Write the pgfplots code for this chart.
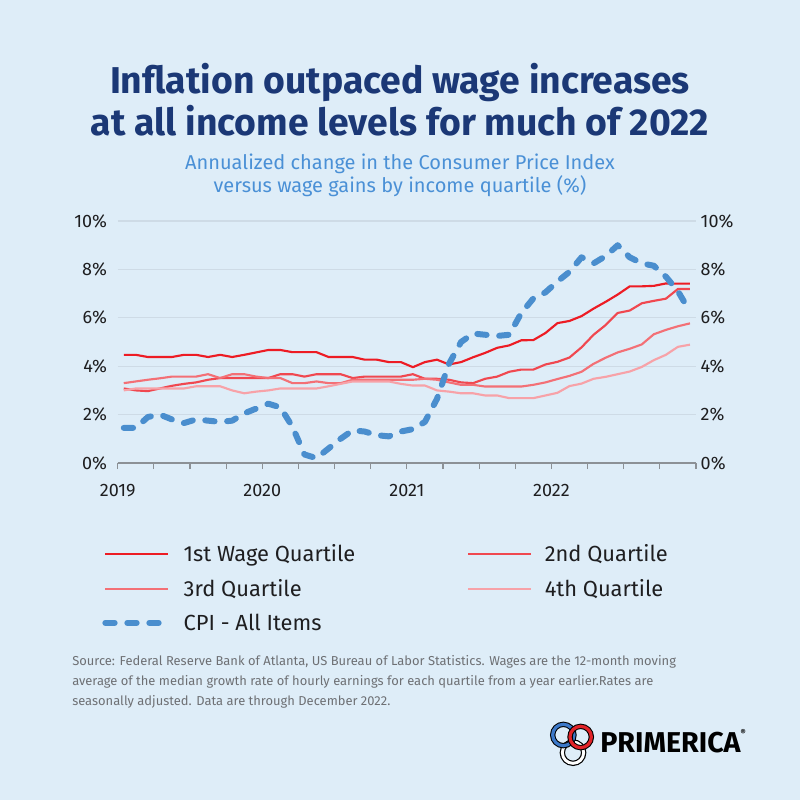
\documentclass[border=0pt]{standalone}
\usepackage{pgfplots}
\pgfplotsset{compat=1.18}
\usepackage{pgfplotstable}
\usepackage{fontspec}
\setmainfont{Fira Sans}
\definecolor{bg}{RGB}{222,237,248}
\definecolor{titlecol}{RGB}{27,56,118}
\definecolor{subcol}{RGB}{74,144,214}
\definecolor{srccol}{RGB}{110,112,116}
\definecolor{gridcol}{RGB}{206,219,230}
\definecolor{axcol}{RGB}{140,145,150}
\definecolor{txtcol}{RGB}{30,30,32}
\definecolor{qa}{RGB}{237,28,36}
\definecolor{qb}{RGB}{240,72,80}
\definecolor{qc}{RGB}{243,112,118}
\definecolor{qd}{RGB}{247,162,168}
\definecolor{cpicol}{RGB}{74,142,206}
\definecolor{logored}{RGB}{225,35,40}
\definecolor{logoblue}{RGB}{60,120,200}

\pgfplotstableread{
m q1 q2 q3 q4 cpi
0.5 4.47 3.08 3.30 3.00 1.45
1.5 4.47 3.00 3.37 3.08 1.45
2.5 4.38 2.97 3.44 3.08 1.90
3.5 4.38 3.08 3.50 3.08 2.00
4.5 4.38 3.19 3.57 3.08 1.80
5.5 4.47 3.27 3.57 3.08 1.65
6.5 4.47 3.33 3.57 3.17 1.80
7.5 4.38 3.44 3.67 3.17 1.75
8.5 4.47 3.51 3.51 3.17 1.70
9.5 4.38 3.51 3.67 3.00 1.75
10.5 4.47 3.51 3.67 2.88 2.05
11.5 4.57 3.51 3.57 2.95 2.25
12.5 4.67 3.51 3.51 3.00 2.45
13.5 4.67 3.67 3.51 3.08 2.30
14.5 4.58 3.67 3.30 3.08 1.50
15.5 4.58 3.57 3.30 3.08 0.35
16.5 4.58 3.67 3.37 3.08 0.20
17.5 4.38 3.67 3.30 3.17 0.60
18.5 4.38 3.67 3.30 3.27 1.00
19.5 4.38 3.51 3.44 3.37 1.35
20.5 4.27 3.57 3.44 3.37 1.30
21.5 4.27 3.57 3.44 3.37 1.15
22.5 4.17 3.57 3.44 3.37 1.10
23.5 4.17 3.57 3.44 3.27 1.30
24.5 3.96 3.67 3.44 3.20 1.40
25.5 4.17 3.48 3.48 3.20 1.70
26.5 4.27 3.48 3.44 3.00 2.65
27.5 4.07 3.44 3.33 2.95 4.10
28.5 4.17 3.33 3.23 2.88 5.00
29.5 4.37 3.30 3.23 2.88 5.35
30.5 4.55 3.48 3.16 2.79 5.30
31.5 4.76 3.57 3.16 2.79 5.25
32.5 4.86 3.77 3.16 2.68 5.30
33.5 5.07 3.86 3.16 2.68 6.20
34.5 5.08 3.86 3.23 2.68 6.80
35.5 5.37 4.07 3.33 2.79 7.05
36.5 5.78 4.18 3.47 2.90 7.50
37.5 5.87 4.36 3.60 3.18 7.90
38.5 6.07 4.78 3.77 3.28 8.50
39.5 6.38 5.30 4.10 3.48 8.25
40.5 6.66 5.70 4.35 3.56 8.55
41.5 6.96 6.20 4.57 3.67 9.00
42.5 7.30 6.30 4.72 3.78 8.50
43.5 7.30 6.60 4.90 3.97 8.25
44.5 7.32 6.70 5.32 4.25 8.15
45.5 7.42 6.79 5.50 4.47 7.70
46.5 7.41 7.19 5.65 4.80 7.10
47.5 7.41 7.19 5.77 4.89 6.25
}\datatable

\begin{document}
\begin{tikzpicture}
\useasboundingbox (0pt,0pt) rectangle (600pt,600pt);
\fill[bg] (0pt,0pt) rectangle (600pt,600pt);

\node[font=\fontsize{28}{31.5}\selectfont\bfseries, text=titlecol, align=center] at (300pt,525pt)
  {Inflation outpaced wage increases\\at all income levels for much of 2022};
\node[font=\fontsize{15}{17.25}\selectfont, text=subcol, align=center] at (300pt,468.5pt)
  {Annualized change in the Consumer Price Index\\versus wage gains by income quartile (\%)};

\begin{axis}[
  at={(88.3pt,252.75pt)}, anchor=south west,
  scale only axis, width=433.7pt, height=181.5pt,
  xmin=0, xmax=48, ymin=0, ymax=10,
  axis x line*=bottom, axis y line*=left,
  x axis line style={draw=axcol, line width=0.8pt, -},
  y axis line style={draw=none},
  xtick={0,3,...,48},
  xticklabels={2019,,,,2020,,,,2021,,,,2022,,,,},
  ytick={0,2,4,6,8,10},
  yticklabels={0\%,2\%,4\%,6\%,8\%,10\%},
  tick align=outside, major tick length=4.5pt,
  xtick style={draw=axcol, line width=0.8pt},
  ytick style={draw=none},
  ymajorgrids, grid style={draw=gridcol, line width=0.9pt},
  tick label style={font=\fontsize{13.5}{16}\selectfont, text=txtcol},
  xticklabel style={yshift=-8pt},
  /pgf/number format/assume math mode=true,
  legend columns=2,
  legend cell align=left,
  legend style={at={(-0.034,-0.315)}, anchor=north west, draw=none, fill=none,
    font=\fontsize{16.4}{19}\selectfont, text=txtcol,
    row sep=7.5pt,
    /tikz/every odd column/.append style={column sep=7.5pt},
    /tikz/column 2/.style={column sep=82pt}},
  legend image code/.code={\draw[#1] (0pt,0pt) -- (47pt,0pt);},
]
\addplot[qa, line width=1.6pt, line join=round] table[x=m,y=q1]{\datatable};
\addlegendentry{1st Wage Quartile}
\addplot[qb, line width=1.6pt, line join=round] table[x=m,y=q2]{\datatable};
\addlegendentry{2nd Quartile}
\addplot[qc, line width=1.6pt, line join=round] table[x=m,y=q3]{\datatable};
\addlegendentry{3rd Quartile}
\addplot[qd, line width=1.6pt, line join=round] table[x=m,y=q4]{\datatable};
\addlegendentry{4th Quartile}
\addplot[cpicol, line width=4.5pt, line cap=round, line join=round, dash pattern=on 7pt off 9.5pt] table[x=m,y=cpi]{\datatable};
\addlegendentry{CPI - All Items}
\end{axis}

\begin{axis}[
  at={(88.3pt,252.75pt)}, anchor=south west,
  scale only axis, width=433.7pt, height=181.5pt,
  xmin=0, xmax=48, ymin=0, ymax=10,
  axis y line*=right, hide x axis,
  y axis line style={draw=none},
  ytick={0,2,4,6,8,10},
  yticklabels={0\%,2\%,4\%,6\%,8\%,10\%},
  ytick style={draw=none},
  tick label style={font=\fontsize{13.5}{16}\selectfont, text=txtcol},
]
\end{axis}

\node[anchor=north west, inner sep=0pt, font=\fontsize{9.7}{15}\selectfont, text=srccol, align=left] at (54pt,109pt)
  {Source: Federal Reserve Bank of Atlanta, US Bureau of Labor Statistics. Wages are the 12-month moving\\
   average of the median growth rate of hourly earnings for each quartile from a year earlier.Rates are\\
   seasonally adjusted. Data are through December 2022.};

% logo
\begin{scope}
\draw[black, line width=4pt] (429.75pt,35.5pt) circle (8pt);
\draw[white, line width=2.2pt] (429.75pt,35.5pt) circle (8pt);
\draw[black, line width=4pt] (422.5pt,48.75pt) circle (8pt);
\draw[logoblue, line width=2.4pt] (422.5pt,48.75pt) circle (8pt);
\draw[black, line width=4pt] (435.5pt,47.25pt) circle (8pt);
\draw[logored, line width=2.4pt] (435.5pt,47.25pt) circle (8pt);
\end{scope}
\node[anchor=west, inner sep=0pt, font=\fontsize{21.5}{24}\selectfont\bfseries, text=black] at (450pt,44.25pt)
  {PRIMERICA\raisebox{1.1ex}{\fontsize{6}{7}\selectfont ®}};
\end{tikzpicture}
\end{document}
